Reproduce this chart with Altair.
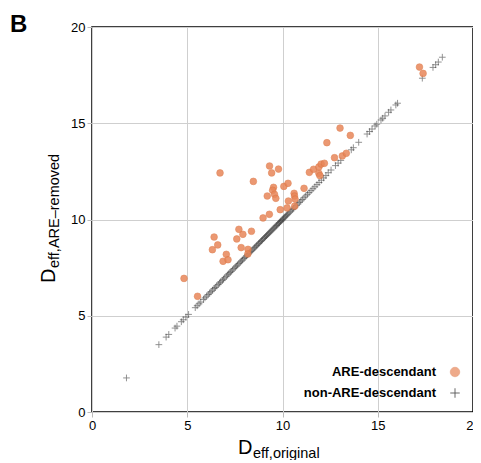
import altair as alt
import pandas as pd

# ---------------- data ----------------
categories = ["ARE-descendant", "non-ARE-descendant"]

are_x = [4.83, 5.54, 6.32, 6.41, 6.60, 6.72, 6.88, 7.05, 7.14, 7.60, 7.71, 7.83, 7.92,
         8.19, 8.18, 8.37, 8.47, 8.98, 9.20, 9.31, 9.32, 9.43, 9.53, 9.48, 9.58, 9.65,
         9.79, 9.88, 10.07, 10.24, 10.29, 10.61, 10.63, 10.66, 10.31, 10.64, 11.13, 11.41,
         11.63, 11.91, 11.96, 11.91, 12.03, 12.20, 12.33, 12.73, 13.02, 13.14, 13.35, 13.56,
         17.19, 17.38]
are_y = [6.94, 6.01, 8.43, 9.09, 8.68, 12.42, 7.83, 8.19, 7.91, 8.99, 9.49, 8.54, 9.23,
         8.45, 8.21, 9.39, 11.98, 10.08, 11.22, 10.27, 12.78, 12.42, 11.67, 11.52, 11.31, 11.10,
         12.62, 10.51, 11.72, 10.60, 11.88, 11.36, 11.22, 11.06, 10.96, 10.69, 11.62, 12.45,
         12.61, 12.40, 12.28, 12.73, 12.88, 12.92, 13.99, 13.21, 14.75, 13.30, 13.44, 14.37,
         17.92, 17.59]

non_x = [1.81, 3.51, 3.89, 4.03, 4.36, 4.46, 4.69, 4.79, 4.93, 5.07, 5.42, 5.52,
         5.62, 5.71, 5.85, 5.93, 6.02, 6.10, 6.18, 6.25, 6.33, 6.41, 6.47, 6.55, 6.63, 6.70,
         6.76, 6.84, 6.90, 6.97, 7.05, 7.12, 7.18, 7.25, 7.31, 7.38, 7.45, 7.52, 7.58, 7.64,
         7.71, 7.78, 7.84, 7.90, 7.97, 8.03, 8.10, 8.16, 8.22, 8.28, 8.34, 8.40, 8.46, 8.52,
         8.57, 8.63, 8.68, 8.74, 8.79, 8.85, 8.90, 8.95, 9.01, 9.06, 9.11, 9.16, 9.21, 9.26,
         9.31, 9.36, 9.41, 9.46, 9.51, 9.56, 9.61, 9.66, 9.70, 9.75, 9.80, 9.84, 9.89, 9.93,
         9.98, 10.02, 10.07, 10.12, 10.17, 10.22, 10.27, 10.33, 10.39, 10.45, 10.52, 10.58,
         10.65, 10.72, 10.80, 10.88, 10.96, 11.04, 11.13, 11.22, 11.31, 11.40, 11.50, 11.60,
         11.70, 11.81, 11.92, 12.04, 12.16, 12.28, 12.40, 12.55, 12.78, 12.92, 13.06, 13.61,
         13.72, 14.00, 14.44, 14.57, 14.70, 14.86, 14.95, 15.17, 15.26, 15.38, 15.57, 15.69,
         15.95, 16.04, 17.34, 17.90, 18.04, 18.18, 18.39]
non_y = [1.77, 3.50, 3.89, 4.03, 4.36, 4.46, 4.69, 4.79, 4.93, 5.07, 5.42, 5.52,
         5.62, 5.71, 5.85, 5.93, 6.02, 6.10, 6.18, 6.25, 6.33, 6.41, 6.47, 6.55, 6.63, 6.70,
         6.76, 6.84, 6.90, 6.97, 7.05, 7.12, 7.18, 7.25, 7.31, 7.38, 7.45, 7.52, 7.58, 7.64,
         7.71, 7.78, 7.84, 7.90, 7.97, 8.03, 8.10, 8.16, 8.22, 8.28, 8.34, 8.40, 8.46, 8.52,
         8.57, 8.63, 8.68, 8.74, 8.79, 8.85, 8.90, 8.95, 9.01, 9.06, 9.11, 9.16, 9.21, 9.26,
         9.31, 9.36, 9.41, 9.46, 9.51, 9.56, 9.61, 9.66, 9.70, 9.75, 9.80, 9.84, 9.89, 9.93,
         9.98, 10.02, 10.07, 10.12, 10.17, 10.22, 10.27, 10.33, 10.39, 10.45, 10.52, 10.58,
         10.65, 10.72, 10.80, 10.88, 10.96, 11.04, 11.13, 11.22, 11.31, 11.40, 11.50, 11.60,
         11.70, 11.81, 11.92, 12.04, 12.16, 12.28, 12.43, 12.57, 12.80, 12.93, 13.07, 13.62,
         13.73, 14.01, 14.44, 14.57, 14.70, 14.86, 14.95, 15.17, 15.26, 15.38, 15.57, 15.69,
         15.95, 16.04, 17.34, 17.90, 18.04, 18.18, 18.43]

tick_values = [0, 5, 10, 15, 20]
panel_label = ["B"]
x_title = ["D", "eff,original"]
y_title = ["D", "eff,ARE\u2013removed"]

FONT = "Liberation Sans"
CROSS = "M-1,0L1,0M0,-1L0,1"

df = pd.concat([
    pd.DataFrame({"x": non_x, "y": non_y, "group": categories[1]}),
    pd.DataFrame({"x": are_x, "y": are_y, "group": categories[0]}),
], ignore_index=True)
legend_df = pd.DataFrame({"group": categories})

fill_scale = alt.Scale(domain=categories, range=["#e8875a", "transparent"])
stroke_scale = alt.Scale(domain=categories, range=["#dc7442", "#111111"])
shape_scale = alt.Scale(domain=categories, range=["circle", CROSS])
opacity_scale = alt.Scale(domain=categories, range=[0.85, 0.5])
sw_scale = alt.Scale(domain=categories, range=[0.6, 0.9])

style_enc = dict(
    fill=alt.Fill("group:N", legend=None, scale=fill_scale),
    stroke=alt.Stroke("group:N", legend=None, scale=stroke_scale),
    shape=alt.Shape("group:N", legend=None, scale=shape_scale),
    opacity=alt.Opacity("group:N", legend=None, scale=opacity_scale),
    strokeWidth=alt.StrokeWidth("group:N", legend=None, scale=sw_scale),
)

scale_x = alt.Scale(domain=[0, 20], nice=False, zero=False)
scale_y = alt.Scale(domain=[0, 20], nice=False, zero=False)

points = alt.Chart(df).mark_point(filled=True, size=45).encode(
    x=alt.X("x:Q", scale=scale_x,
            axis=alt.Axis(values=tick_values, title=None, labelFlush=False)),
    y=alt.Y("y:Q", scale=scale_y,
            axis=alt.Axis(values=tick_values, title=None, labelFlush=False)),
    **style_enc,
)

# legend drawn as layers (symbols to the right of right-aligned bold labels)
legend_y = alt.Y("group:N", axis=None,
                 scale=alt.Scale(domain=categories, range=[345, 366], padding=0))
legend_sym = alt.Chart(legend_df).mark_point(filled=True, size=90).encode(
    x=alt.value(363), y=legend_y,
    fill=alt.Fill("group:N", legend=None, scale=fill_scale),
    stroke=alt.Stroke("group:N", legend=None,
                      scale=alt.Scale(domain=categories, range=["#d0622e", "#333333"])),
    shape=alt.Shape("group:N", legend=None, scale=shape_scale),
    strokeWidth=alt.StrokeWidth("group:N", legend=None,
                                scale=alt.Scale(domain=categories, range=[1.2, 0.9])),
)
legend_txt = alt.Chart(legend_df).mark_text(
    align="right", baseline="middle", font=FONT, fontSize=13,
    fontWeight="bold", color="black",
).encode(x=alt.value(344), y=legend_y, text="group:N")


def text_layer(txt, x, y, size, angle=0, weight="normal"):
    return alt.Chart(pd.DataFrame({"t": [txt]})).mark_text(
        align="left", baseline="alphabetic", fontSize=size, angle=angle,
        font=FONT, fontWeight=weight, color="black",
    ).encode(x=alt.value(x), y=alt.value(y), text="t:N")


layers = [
    points,
    legend_sym,
    legend_txt,
    text_layer(panel_label[0], -82, 5, 24, weight="bold"),
    text_layer(x_title[0], 146, 427, 20),
    text_layer(x_title[1], 161, 431, 14.5),
    text_layer(y_title[0], -37, 256, 20, angle=270),
    text_layer(y_title[1], -33, 241, 14.5, angle=270),
]

chart = alt.layer(*layers).resolve_scale(y="independent").properties(
    width=381, height=385,
    autosize=alt.AutoSizeParams(type="none"),
    padding={"left": 84, "top": 19, "right": 0, "bottom": 48},
).configure_view(
    stroke="black", strokeWidth=1.5
).configure_axis(
    domain=False, grid=True, gridColor="#cfcfcf", gridWidth=1,
    tickColor="#bbbbbb", tickSize=5, labelFont=FONT, labelFontSize=13,
    labelColor="black", labelPadding=2,
)

chart.save("out.html", embed_options={"renderer": "svg", "actions": False})
